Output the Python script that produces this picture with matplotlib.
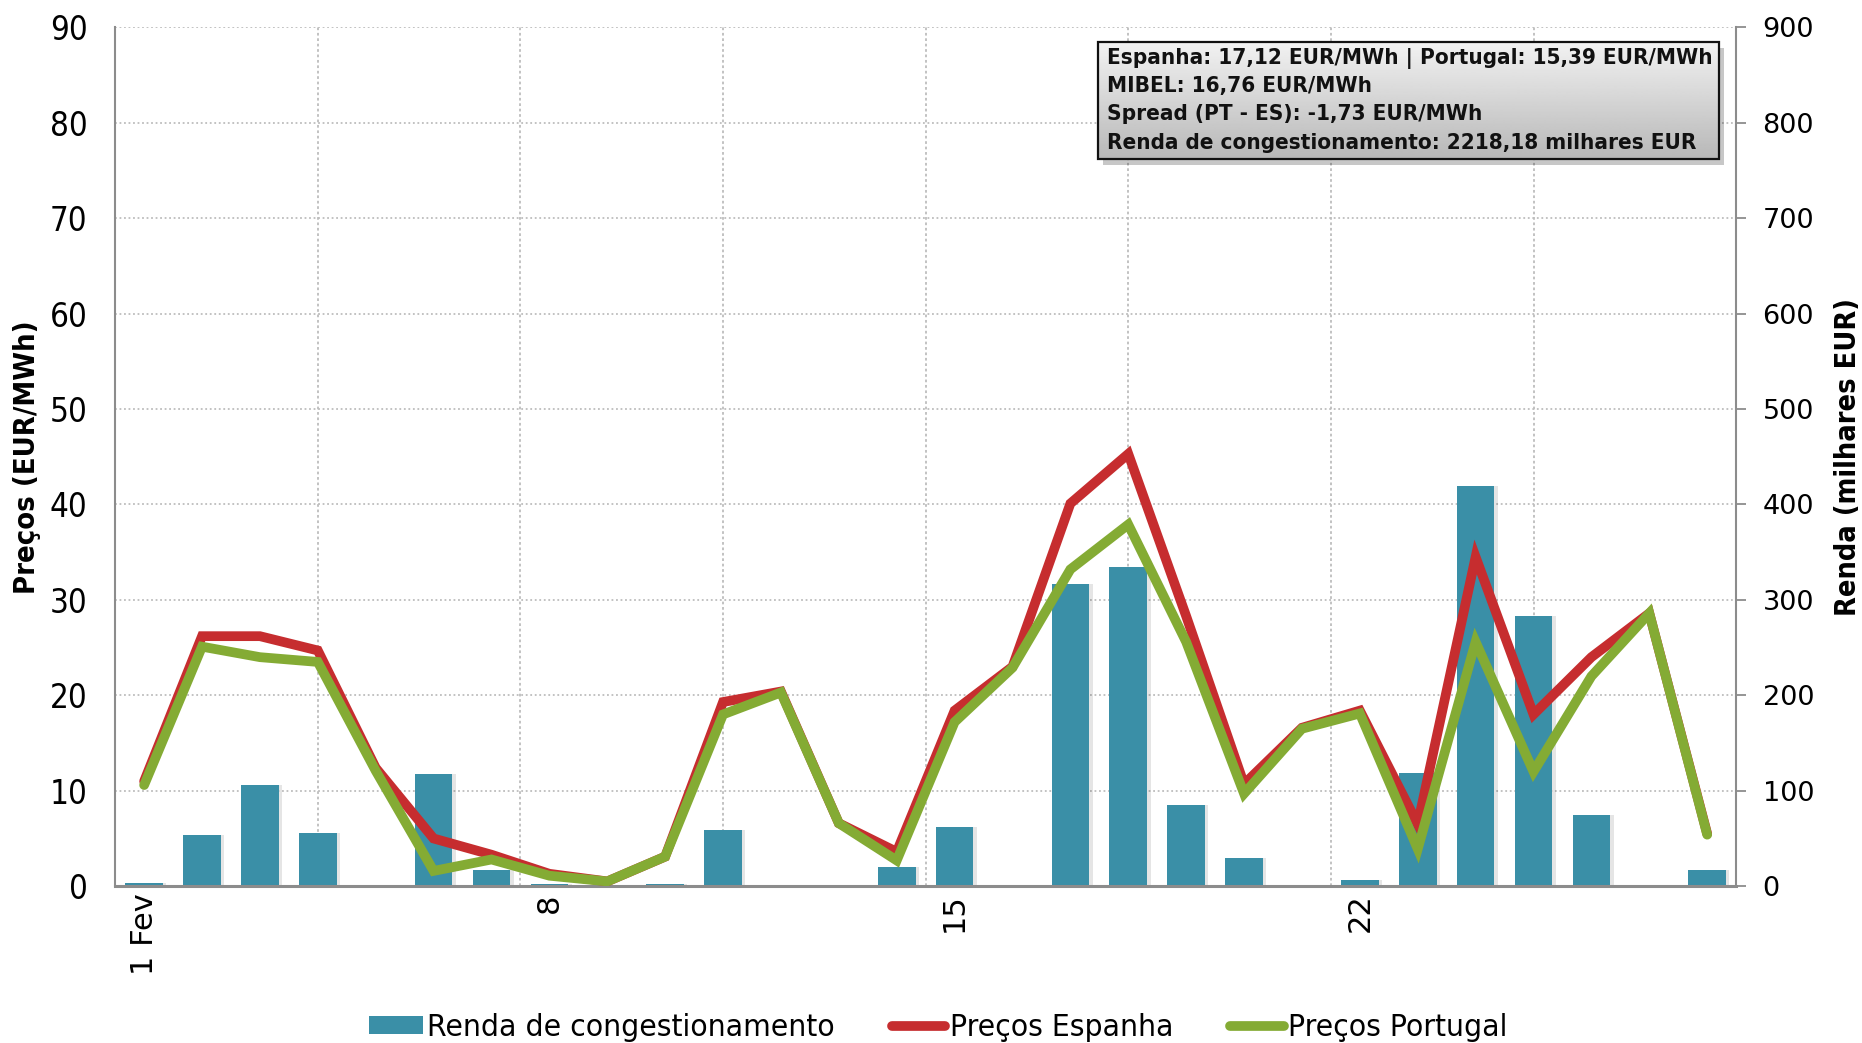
import numpy as np
import matplotlib
matplotlib.use("Agg")
import matplotlib.pyplot as plt
from matplotlib import font_manager as fm
from matplotlib.lines import Line2D
from matplotlib.patches import Patch, Rectangle

# ---------------- data ----------------
days = list(range(1, 29))
precos_espanha = [11.0, 26.2, 26.2, 24.7, 12.4, 5.0, 3.3, 1.3, 0.5, 3.1,
                  19.3, 20.4, 6.6, 3.6, 18.4, 23.0, 40.1, 45.3, 28.3, 10.7,
                  16.6, 18.4, 6.5, 34.5, 18.0, 24.0, 28.6, 5.5]
precos_portugal = [10.6, 25.1, 24.0, 23.5, 12.1, 1.6, 2.8, 1.1, 0.5, 3.1,
                   18.0, 20.3, 6.6, 2.7, 17.2, 22.9, 33.2, 37.9, 25.6, 9.7,
                   16.5, 18.1, 3.9, 25.6, 12.0, 22.0, 28.6, 5.4]
renda = [3, 54, 106, 56, 0, 118, 17, 2, 0, 2,
         59, 0, 0.5, 20, 62, 0, 317, 334, 85, 30,
         0, 6, 119, 419, 283, 75, 0, 17]
xtick_days = [1, 8, 15, 22]
xtick_labels = ["1 Fev", "8", "15", "22"]
info_lines = ["Espanha: 17,12 EUR/MWh | Portugal: 15,39 EUR/MWh",
              "MIBEL: 16,76 EUR/MWh",
              "Spread (PT - ES): -1,73 EUR/MWh",
              "Renda de congestionamento: 2218,18 milhares EUR"]

# ---------------- fonts ----------------
def has_font(name, stretch=None):
    for f in fm.fontManager.ttflist:
        if f.name == name and (stretch is None or f.stretch == stretch):
            return True
    return False

if has_font("DejaVu Sans", "condensed"):
    cond = dict(family="DejaVu Sans", stretch="condensed")
    csc = 1.08
elif has_font("Liberation Sans Narrow"):
    cond = dict(family="Liberation Sans Narrow")
    csc = 1.12
else:
    cond = dict(family="DejaVu Sans")
    csc = 0.92
regular = dict(family="DejaVu Sans")

C_BAR = "#3A8FA7"
C_ES = "#C62D2F"
C_PT = "#84AB34"
C_GRID = "#BDBDBD"
C_AX = "#8C8C8C"
LW = 7.0

fig = plt.figure(figsize=(18.62, 10.43), dpi=100)
ax = fig.add_axes([0.06186, 0.15034, 0.87054, 0.82346])   # bars, right axis
ax2 = ax.twinx()                                             # lines, left axis

x = np.array(days)
# subtle bar shadow
ax.bar(x + 0.06, renda, width=0.65, color="#000000", alpha=0.10, zorder=1,
       linewidth=0)
ax.bar(x, renda, width=0.65, color=C_BAR, zorder=2, linewidth=0,
       label="Renda de congestionamento")

ax2.plot(x, precos_espanha, color=C_ES, lw=LW, solid_joinstyle="miter",
         solid_capstyle="round", zorder=3)
ax2.plot(x, precos_portugal, color=C_PT, lw=LW, solid_joinstyle="miter",
         solid_capstyle="round", zorder=4)

ax.set_xlim(0.5, 28.5)
ax.set_ylim(0, 900)
ax2.set_ylim(0, 90)

ax.yaxis.tick_right()
ax.yaxis.set_label_position("right")
ax2.yaxis.tick_left()
ax2.yaxis.set_label_position("left")

ax.set_yticks(np.arange(0, 901, 100))
ax2.set_yticks(np.arange(0, 91, 10))
ax.set_xticks(xtick_days)
ax.set_xticklabels(xtick_labels, rotation=90, fontsize=22, va="top",
                   ha="center", **regular)

# grid
for v in np.arange(100, 901, 100):
    ax.axhline(v, color=C_GRID, lw=1.3, ls=(0, (1, 1.5)), zorder=0)
for d in [4, 7.5, 11, 14.5, 18, 21.5, 25]:
    ax.axvline(d, color=C_GRID, lw=1.3, ls=(0, (1.5, 1.5)), zorder=0)

# spines
for a in (ax, ax2):
    a.spines["top"].set_visible(False)
    a.patch.set_visible(False)
ax.spines["left"].set_visible(False)
ax2.spines["right"].set_visible(False)
ax2.spines["bottom"].set_visible(False)
ax.spines["right"].set_color(C_AX)
ax.spines["right"].set_linewidth(1.5)
ax.spines["bottom"].set_color(C_AX)
ax.spines["bottom"].set_linewidth(2.2)
ax2.spines["left"].set_color(C_AX)
ax2.spines["left"].set_linewidth(1.5)

ax.tick_params(axis="x", length=0, pad=5)
ax.tick_params(axis="y", direction="out", length=7, width=1.3, color=C_AX,
               pad=12)
ax2.tick_params(axis="y", length=0, pad=20)
for t in ax.get_yticklabels():
    t.set_fontsize(19.5)
    t.set_fontfamily("DejaVu Sans")
for t in ax2.get_yticklabels():
    t.set_fontproperties(fm.FontProperties(size=22 * csc, **cond))

ax2.set_ylabel("Preços (EUR/MWh)", fontsize=19.3 * csc, fontweight="bold",
               labelpad=6, **cond)
ax.set_ylabel("Renda (milhares EUR)", fontsize=19.2 * csc, fontweight="bold",
              labelpad=14, **cond)

# ---------------- info box ----------------
x0, x1, y0, y1 = 0.6066, 0.9897, 0.8465, 0.9834
shadow = Rectangle((x0 + 0.003, y0 - 0.007), x1 - x0, y1 - y0,
                   transform=ax2.transAxes, facecolor="#000000", alpha=0.22,
                   edgecolor="none", zorder=9)
ax2.add_patch(shadow)
grad = np.linspace(0.95, 0.72, 100).reshape(-1, 1)
ax2.imshow(grad, cmap="gray", vmin=0, vmax=1, aspect="auto",
           extent=(x0, x1, y0, y1), transform=ax2.transAxes, zorder=10,
           interpolation="bilinear")
ax2.add_patch(Rectangle((x0, y0), x1 - x0, y1 - y0, transform=ax2.transAxes,
                        facecolor="none", edgecolor="#111111", lw=1.6,
                        zorder=11))
for i, line in enumerate(info_lines):
    ax2.text(0.6117, 0.964 - i * 0.0327, line, transform=ax2.transAxes,
             ha="left", va="center", fontsize=14.9 * csc, fontweight="bold",
             color="#111111", zorder=12, **cond)
ax2.set_xlim(0.5, 28.5)
ax2.set_ylim(0, 90)

# ---------------- legend ----------------
handles = [Patch(facecolor=C_BAR, edgecolor="none"),
           Line2D([], [], color=C_ES, lw=LW, solid_capstyle="round"),
           Line2D([], [], color=C_PT, lw=LW, solid_capstyle="round")]
labels = ["Renda de congestionamento", "Preços Espanha", "Preços Portugal"]
fig.legend(handles, labels, ncol=3, loc="center",
           bbox_to_anchor=(0.504, 0.015), frameon=False,
           prop=fm.FontProperties(size=21 * csc, **cond),
           handlelength=1.7, handleheight=0.5, handletextpad=0.15,
           columnspacing=1.8)

fig.savefig("out.png", dpi=100)
